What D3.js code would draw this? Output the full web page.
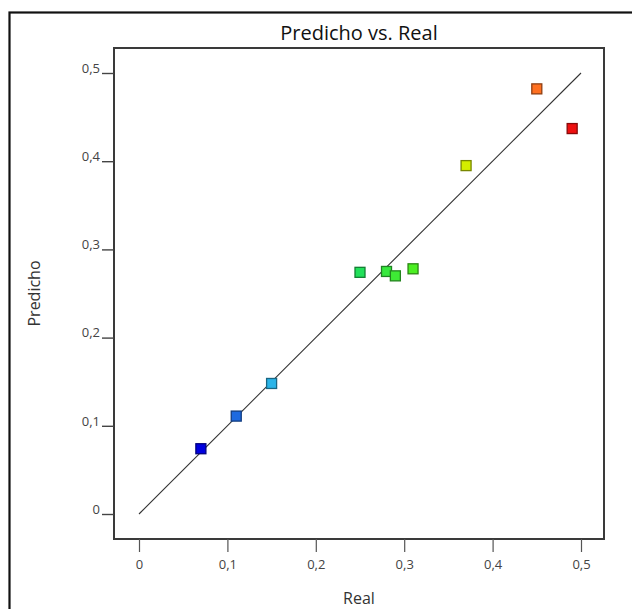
<!DOCTYPE html>
<html>
<head>
<meta charset="utf-8">
<script src="https://cdn.jsdelivr.net/npm/d3@7"></script>
<style>
  html, body { margin: 0; padding: 0; background: #fff; }
  svg { display: block; }
  text { font-family: "Open Sans", "Noto Sans", sans-serif; }
</style>
</head>
<body>
<script>
// Observed (Real) vs. predicted (Predicho) response values
const realValues     = [0.07, 0.11, 0.15, 0.25, 0.28, 0.29, 0.31, 0.37, 0.45, 0.49];
const predichoValues = [0.074, 0.111, 0.148, 0.274, 0.275, 0.270, 0.278, 0.395, 0.482, 0.437];
const tickValues = [0, 0.1, 0.2, 0.3, 0.4, 0.5];
const titleText = "Predicho vs. Real";
const xLabel = "Real";
const yLabel = "Predicho";

// Blue-to-red palette keyed on the observed value
const palette = ["#0000e0", "#1e6ae0", "#2ab4e8", "#22e05a", "#4cef22", "#d4ee00", "#ff7020", "#ee1010"];
const paletteStops = [0.07, 0.11, 0.15, 0.25, 0.31, 0.37, 0.45, 0.49];

const W = 632, H = 609;
const frame = { left: 114, right: 604, top: 48, bottom: 539 };

const svg = d3.select("body").append("svg").attr("width", W).attr("height", H);

// Outer panel border (left and top edges fall inside the view)
svg.append("rect")
  .attr("x", 9.5).attr("y", 12.5)
  .attr("width", W + 20).attr("height", H + 20)
  .attr("fill", "none").attr("stroke", "#111").attr("stroke-width", 2.2);

const x = d3.scaleLinear().domain([0, 0.5]).range([139, 581]);
const y = d3.scaleLinear().domain([0, 0.5]).range([514, 73]);
const color = d3.scaleLinear().domain(paletteStops).range(palette).clamp(true);

const fmt = d => d === 0 ? "0" : d3.format(".1f")(d).replace(".", ",");

// Title
svg.append("text")
  .attr("x", (frame.left + frame.right) / 2).attr("y", 40)
  .attr("text-anchor", "middle")
  .attr("font-size", 20).attr("fill", "#111")
  .text(titleText);

// Plot frame
svg.append("rect")
  .attr("x", frame.left).attr("y", frame.top)
  .attr("width", frame.right - frame.left).attr("height", frame.bottom - frame.top)
  .attr("fill", "#fff").attr("stroke", "#3a3a3a").attr("stroke-width", 2);

// X axis: ticks hang below the frame
const xAxis = d3.axisBottom(x).tickValues(tickValues).tickFormat(fmt)
  .tickSize(13).tickSizeOuter(0).tickPadding(8);
const gx = svg.append("g").attr("transform", `translate(0,${frame.bottom})`).call(xAxis);
gx.select(".domain").remove();
gx.selectAll(".tick line").attr("stroke", "#555").attr("stroke-width", 1.2);
gx.selectAll(".tick text").attr("font-size", 13).attr("fill", "#444").attr("font-family", "Open Sans, sans-serif");

// Y axis: ticks sit to the left of the frame
const yAxis = d3.axisLeft(y).tickValues(tickValues).tickFormat(fmt)
  .tickSize(12).tickSizeOuter(0).tickPadding(2);
const gy = svg.append("g").attr("transform", `translate(${frame.left},0)`).call(yAxis);
gy.select(".domain").remove();
gy.selectAll(".tick line").attr("stroke", "#444").attr("stroke-width", 1.4);
gy.selectAll(".tick text").attr("font-size", 13).attr("fill", "#444")
  .attr("dy", "-0.05em").attr("font-family", "Open Sans, sans-serif");

// Axis titles
svg.append("text")
  .attr("x", (frame.left + frame.right) / 2).attr("y", 604)
  .attr("text-anchor", "middle").attr("font-size", 16).attr("fill", "#333")
  .text(xLabel);
svg.append("text")
  .attr("transform", `translate(40,${(frame.top + frame.bottom) / 2}) rotate(-90)`)
  .attr("text-anchor", "middle").attr("font-size", 16).attr("fill", "#333")
  .text(yLabel);

// Reference line y = x
svg.append("line")
  .attr("x1", x(0)).attr("y1", y(0))
  .attr("x2", x(0.5)).attr("y2", y(0.5))
  .attr("stroke", "#333").attr("stroke-width", 1.1);

// Points
const pts = realValues.map((r, i) => ({ r, p: predichoValues[i] }));
const size = 10;
svg.append("g").selectAll("rect")
  .data(pts).join("rect")
  .attr("x", d => x(d.r) - size / 2)
  .attr("y", d => y(d.p) - size / 2)
  .attr("width", size).attr("height", size)
  .attr("fill", d => color(d.r))
  .attr("stroke", d => d3.color(color(d.r)).darker(1.6))
  .attr("stroke-width", 1.3);
</script>
</body>
</html>
